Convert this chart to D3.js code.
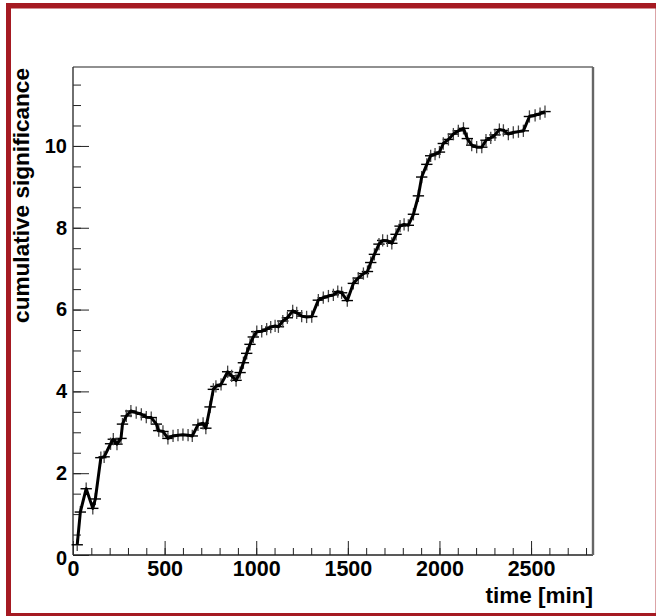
<!DOCTYPE html>
<html>
<head>
<meta charset="utf-8">
<script src="https://cdn.jsdelivr.net/npm/d3@7"></script>
<style>
  html, body { margin: 0; padding: 0; background: #fff; }
  svg { display: block; }
  text { font-family: "Liberation Sans", Arial, Helvetica, sans-serif; font-weight: bold; fill: #000; }
</style>
</head>
<body>
<div id="chart"></div>
<script>
// ---- data ----
const times = [23, 40, 72, 108, 122, 152, 170, 205, 220, 240, 262, 270, 291, 316, 345, 373, 400, 427, 455, 468,
  491, 518, 546, 573, 600, 628, 651, 682, 710, 725, 748, 766, 780, 808, 844, 866, 890, 912, 930, 948,
  966, 984, 1003, 1030, 1057, 1079, 1103, 1121, 1145, 1170, 1199, 1221, 1248, 1275, 1303, 1339, 1366, 1394, 1421, 1445,
  1466, 1497, 1530, 1557, 1585, 1607, 1625, 1645, 1670, 1690, 1716, 1740, 1763, 1785, 1807, 1830, 1858, 1885, 1903, 1931,
  1952, 1976, 2000, 2021, 2049, 2076, 2103, 2131, 2152, 2176, 2203, 2231, 2254, 2280, 2303, 2327, 2349, 2376, 2403, 2431,
  2458, 2491, 2522, 2549, 2576];
const significance = [0.25, 1.05, 1.62, 1.14, 1.37, 2.38, 2.40, 2.72, 2.83, 2.71, 2.85, 3.20, 3.40, 3.52, 3.48, 3.44, 3.37, 3.36, 3.20, 3.04,
  3.02, 2.85, 2.91, 2.93, 2.94, 2.93, 2.91, 3.18, 3.22, 3.10, 3.62, 4.05, 4.12, 4.17, 4.48, 4.38, 4.27, 4.46, 4.70, 4.93,
  5.15, 5.33, 5.46, 5.47, 5.52, 5.57, 5.60, 5.58, 5.72, 5.80, 5.97, 5.92, 5.84, 5.82, 5.83, 6.23, 6.29, 6.33, 6.36, 6.44,
  6.41, 6.22, 6.64, 6.77, 6.88, 6.93, 7.15, 7.35, 7.60, 7.69, 7.68, 7.62, 7.84, 8.04, 8.08, 8.06, 8.33, 8.78, 9.24, 9.55,
  9.76, 9.80, 9.85, 10.06, 10.16, 10.29, 10.37, 10.43, 10.18, 10.02, 9.97, 9.97, 10.14, 10.20, 10.27, 10.40, 10.38, 10.29, 10.33, 10.35,
  10.37, 10.72, 10.75, 10.79, 10.84];
const timeErr = 31;      // half width of the horizontal error bars [min]
const sigErr = 0.15;     // half height of the vertical error bars

const xMajorTicks = [0, 500, 1000, 1500, 2000, 2500];
const xTickLabels = ["0", "500", "1000", "1500", "2000", "2500"];
const xMinorTicks = d3.range(0, 2801, 100);
const yMajorTicks = [0, 2, 4, 6, 8, 10];
const yTickLabels = ["0", "2", "4", "6", "8", "10"];
const yMinorTicks = d3.range(0, 11.6, 0.5);
const xTitle = "time [min]";
const yTitle = "cumulative significance";
const xDomain = [0, 2838];
const yDomain = [0, 11.93];

// ---- layout ----
const W = 656, H = 616;
const frame = { left: 73, right: 593, top: 67, bottom: 555 };

const svg = d3.select("#chart").append("svg").attr("width", W).attr("height", H);

// dark red canvas border
svg.append("rect").attr("x", 6).attr("y", 3).attr("width", 700).attr("height", 700).attr("fill", "#a51a22");
svg.append("rect").attr("x", 11).attr("y", 8.5).attr("width", 644.6).attr("height", 604.5).attr("fill", "#fff");

const x = d3.scaleLinear().domain(xDomain).range([frame.left, frame.right]);
const y = d3.scaleLinear().domain(yDomain).range([frame.bottom, frame.top]);

// minor ticks
const xMinor = svg.append("g").attr("transform", `translate(0,${frame.bottom})`)
  .call(d3.axisBottom(x).tickValues(xMinorTicks).tickSize(-7).tickSizeOuter(0).tickFormat(""));
const yMinor = svg.append("g").attr("transform", `translate(${frame.left},0)`)
  .call(d3.axisLeft(y).tickValues(yMinorTicks).tickSize(-8).tickSizeOuter(0).tickFormat(""));

// major ticks with labels
const xAxis = svg.append("g").attr("transform", `translate(0,${frame.bottom})`)
  .call(d3.axisBottom(x).tickValues(xMajorTicks).tickSize(-14).tickSizeOuter(0).tickPadding(6)
    .tickFormat((d, i) => xTickLabels[i]));
const yAxis = svg.append("g").attr("transform", `translate(${frame.left},0)`)
  .call(d3.axisLeft(y).tickValues(yMajorTicks).tickSize(-16).tickSizeOuter(0).tickPadding(6)
    .tickFormat((d, i) => yTickLabels[i]));

[xMinor, yMinor, xAxis, yAxis].forEach(g => {
  g.select(".domain").remove();
  g.selectAll(".tick line").attr("stroke", "#222").attr("stroke-width", 1);
});
xAxis.selectAll(".tick text").attr("font-size", 21.5).attr("font-family", null).attr("fill", "#000");
yAxis.selectAll(".tick text").attr("font-size", 20).attr("font-family", null).attr("fill", "#000");
yAxis.selectAll(".tick").filter(d => d === 0).select("text").attr("dy", "0.45em");

// frame
svg.append("line").attr("x1", frame.left).attr("x2", frame.right).attr("y1", frame.top).attr("y2", frame.top)
  .attr("stroke", "#222").attr("stroke-width", 1.2);
svg.append("line").attr("x1", frame.left).attr("x2", frame.right).attr("y1", frame.bottom).attr("y2", frame.bottom)
  .attr("stroke", "#222").attr("stroke-width", 1.4);
svg.append("line").attr("x1", frame.left).attr("x2", frame.left).attr("y1", frame.top).attr("y2", frame.bottom)
  .attr("stroke", "#333").attr("stroke-width", 1.4);
svg.append("line").attr("x1", frame.right).attr("x2", frame.right).attr("y1", frame.top).attr("y2", frame.bottom)
  .attr("stroke", "#666").attr("stroke-width", 2.4);

// data
const pts = times.map((t, i) => ({ t, v: significance[i] }));
const bars = svg.append("g");
bars.selectAll("line.h").data(pts).join("line").attr("class", "h")
  .attr("x1", d => x(d.t - timeErr)).attr("x2", d => x(d.t + timeErr))
  .attr("y1", d => y(d.v)).attr("y2", d => y(d.v))
  .attr("stroke", "#000").attr("stroke-width", 1.4);
bars.selectAll("line.v").data(pts).join("line").attr("class", "v")
  .attr("x1", d => x(d.t)).attr("x2", d => x(d.t))
  .attr("y1", d => y(d.v - sigErr)).attr("y2", d => y(d.v + sigErr))
  .attr("stroke", "#444").attr("stroke-width", 1.3);

const line = d3.line().x(d => x(d.t)).y(d => y(d.v));
svg.append("path").datum(pts).attr("d", line)
  .attr("fill", "none").attr("stroke", "#000").attr("stroke-width", 3).attr("stroke-linejoin", "round");

// titles
svg.append("text").attr("x", frame.right).attr("y", 602.5).attr("text-anchor", "end")
  .attr("font-size", 22.5).text(xTitle);
svg.append("text").attr("transform", `translate(29,${frame.top + 1}) rotate(-90)`).attr("text-anchor", "end")
  .attr("font-size", 22.6).text(yTitle);
</script>
</body>
</html>
